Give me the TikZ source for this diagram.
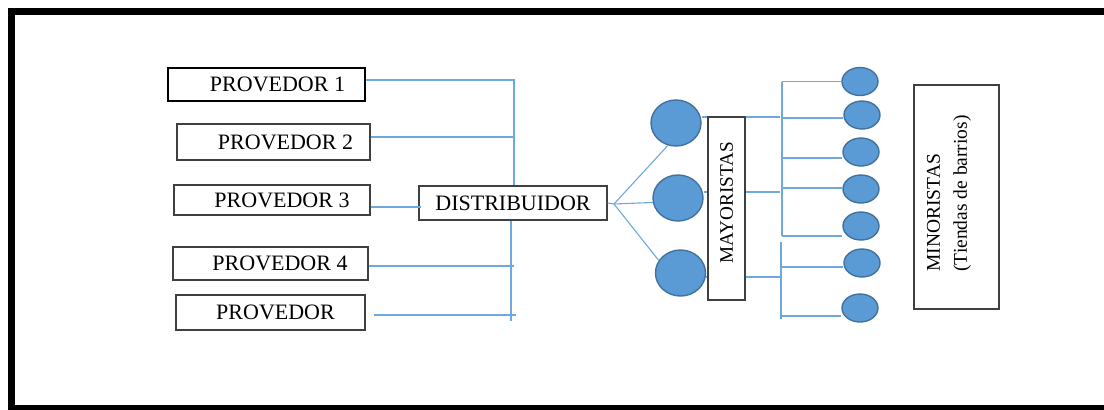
\documentclass[tikz,border=0pt]{standalone}
\usepackage{fontspec}
\setmainfont{Liberation Serif}
\usetikzlibrary{shapes.geometric}
\definecolor{azullinea}{HTML}{6FA8DC}
\definecolor{azulbola}{HTML}{5B9BD5}
\definecolor{bordebola}{HTML}{41719C}

\begin{document}
\begin{tikzpicture}[x=0.5pt,y=-0.5pt,
	caja/.style={draw=black!75,line width=0.6pt,fill=white,inner sep=0pt,font=\fontsize{11}{13}\selectfont},
	bola/.style={ellipse,draw=bordebola,fill=azulbola,line width=0.7pt,inner sep=0pt,minimum width=25pt,minimum height=23pt},
	bolita/.style={bola,minimum width=18pt,minimum height=14pt},
	enlace/.style={draw=azullinea,line width=0.55pt}]
	\useasboundingbox (0,0) rectangle (1104,409);
	\draw[line width=3.75pt] (1110,11.5) -- (11.5,11.5) -- (11.5,408.5) -- (1110,408.5);

	\node[caja,draw=black,line width=1.3pt,minimum width=98.5pt,minimum height=16.5pt] (prov1) at (266.5,84.5) {\hspace*{11pt}PROVEDOR 1};
	\node[caja,minimum width=96.5pt,minimum height=18pt] (prov2) at (273.5,142) {\hspace*{12pt}PROVEDOR 2};
	\node[caja,minimum width=98pt,minimum height=15pt] (prov3) at (272,200) {\hspace*{10pt}PROVEDOR 3};
	\node[caja,minimum width=97.5pt,minimum height=16.5pt] (prov4) at (270.5,263.5) {\hspace*{9.5pt}PROVEDOR 4};
	\node[caja,minimum width=94.5pt,minimum height=17.5pt] (prov5) at (270.5,312.5) {\hspace*{5pt}PROVEDOR};
	\node[caja,minimum width=94pt,minimum height=17pt] (dist) at (513,203) {DISTRIBUIDOR};

	\node[bola] (c1) at (676,123) {};
	\node[bola] (c2) at (678,198) {};
	\node[bola] (c3) at (680.5,273) {};
	\node[caja,rotate=90,minimum width=91.5pt,minimum height=18.5pt,font=\fontsize{9.6}{11}\selectfont] (may) at (726.5,208.5) {\hspace*{6pt}MAYORISTAS};

	\foreach \i/\y/\x in {1/81.5/860,2/115/862,3/152/861,4/189/861,5/226/861,6/263/862,7/308/860}
		\node[bolita] (s\i) at (\x,\y) {};

	\node[caja,minimum width=42.5pt,minimum height=112pt] (mino) at (956.5,197) {};
	\node[rotate=90,anchor=west,align=left,inner sep=0pt,font=\fontsize{9.75}{13.5}\selectfont] (minotxt) at (949,272) {MINORISTAS\\(Tiendas de barrios)};

	\coordinate (j1) at (514,80);
	\coordinate (j2) at (514,137);
	\coordinate (j3) at (421,207);
	\coordinate (j4) at (514,266);
	\coordinate (j5) at (516,315);
	\coordinate (jb) at (511,321);
	\coordinate (fp) at (614,204);
	\draw[enlace] (prov1.east |- j1) -- (j1) -- (j1 |- dist.north);
	\draw[enlace] (prov2.east |- j2) -- (j2);
	\draw[enlace] (prov3.east |- j3) -- (j3);
	\draw[enlace] (prov4.east |- j4) -- (j4);
	\draw[enlace] ([xshift=4pt]prov5.east |- j5) -- (j5);
	\draw[enlace] (dist.south -| jb) -- (jb);

	\draw[enlace] (dist.east) -- (fp);
	\draw[enlace] (fp) -- (c1.250);
	\draw[enlace] (fp) -- (c2.190);
	\draw[enlace] (fp) -- (c3.150);

	\foreach \i/\h in {1/117,2/192,3/277}{
		\coordinate (h\i) at (780,\h);
		\draw[enlace] (c\i.east |- h\i) -- (may.north |- h\i);
		\draw[enlace] (may.south |- h\i) -- (h\i);
	}

	\foreach \i/\h/\v in {1/81.7/782,2/118/782,3/158/782,4/188/782,5/236/782,6/267/781,7/316/781}
		\draw[enlace] (\v,\h) coordinate (r\i) -- (s\i.west |- r\i);
	\coordinate (b2a) at (781,242);
	\coordinate (b2b) at (781,319);
	\draw[enlace] (r1) -- (r5);
	\draw[enlace] (b2a) -- (b2b);
\end{tikzpicture}
\end{document}
